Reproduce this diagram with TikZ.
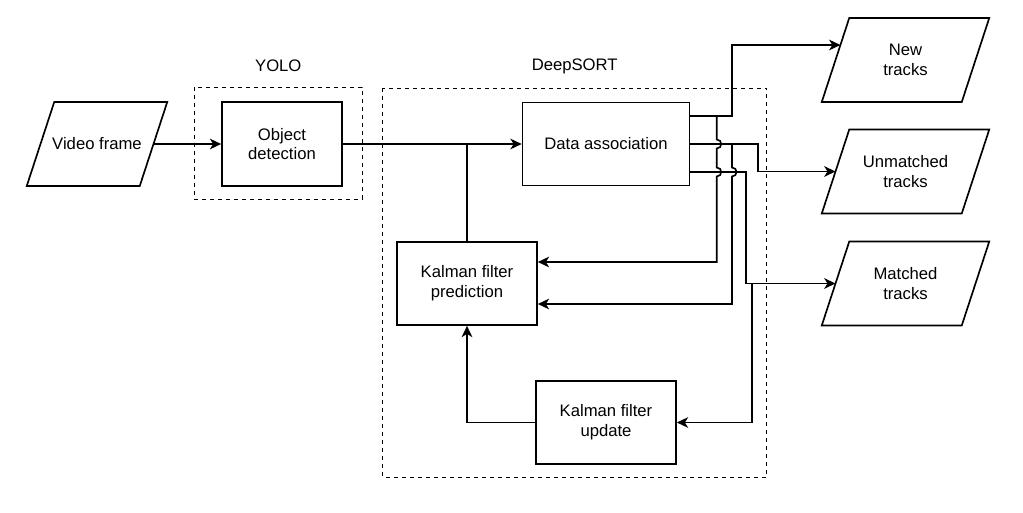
\documentclass[tikz,border=0pt]{standalone}
\usepackage{fontspec}
\setmainfont{Liberation Sans}
\usetikzlibrary{arrows.meta,calc}
\tikzset{
  ln/.style={line width=1.25pt, draw=black},
  arr/.style={ln, -{Stealth[length=8.5pt,width=8pt,inset=2.5pt]}},
  box/.style={ln, rectangle, align=center, inner sep=0pt},
  txt/.style={align=center, inner sep=0pt, font=\fontsize{12.5}{14.8}\selectfont},
  dashbox/.style={line width=1.1pt, draw=black, dash pattern=on 3pt off 3pt},
}
\newcommand\paranode[5]{%
  \node[txt] (#1) at (#2,#3) {#5};
  \draw[ln] ($(#1.center)+(-#4+13.75,-42)$) -- ($(#1.center)+(#4+13.75,-42)$)
    -- ($(#1.center)+(#4-13.75,42)$) -- ($(#1.center)+(-#4-13.75,42)$) -- cycle;
  \coordinate (#1-w) at ($(#1.center)+(-#4,0)$);
  \coordinate (#1-e) at ($(#1.center)+(#4,0)$);
}
\begin{document}
\begin{tikzpicture}[x=0.75pt,y=-0.75pt]
\useasboundingbox (0,0) rectangle (1023,513);

% group frames
\draw[dashbox] (194.3,87.3) rectangle (362.3,199.3);
\draw[dashbox] (382.7,88.3) rectangle (766.7,477.3);
\node[txt] (yolo) at (278.3,66) {YOLO};
\node[txt] (deep) at (574.7,66) {DeepSORT};

% parallelograms
\paranode{vf}{97}{144}{56.5}{Video frame}
\paranode{nt}{905.5}{60}{70}{New\\tracks}
\paranode{ut}{905.5}{171.5}{70}{Unmatched\\tracks}
\paranode{mt}{905.5}{283.5}{70}{Matched\\tracks}
\coordinate (nt-a) at ($(nt.center)+(-70+4.9,-15)$);

% boxes
\node[txt,box,minimum width=90pt,minimum height=63pt] (od) at (282,144) {Object\\detection};
\node[txt,box,minimum width=125.25pt,minimum height=62.25pt] (da) at (606,144) {Data association};
\node[txt,box,minimum width=105pt,minimum height=62.25pt] (kp) at (467,283.5) {Kalman filter\\prediction};
\node[txt,box,minimum width=105pt,minimum height=62.25pt] (ku) at (606,422.5) {Kalman filter\\update};

% junction coordinates
\coordinate (daN) at ($(da.east)+(0,-28)$);
\coordinate (daS) at ($(da.east)+(0,28)$);
\coordinate (kpA) at ($(kp.east)+(0,-21.5)$);
\coordinate (kpB) at ($(kp.east)+(0,20.5)$);

% main flow
\draw[arr] (vf-e) -- (od.west);
\draw[arr] (od.east) -- (da.west);
\draw[ln] (kp.north) -- (kp.north |- da.west);
\draw[arr] (ku.west) -| (kp.south);

% data association outputs
\draw[arr] (daN) -- (732,116) -- (732,45) -- (nt-a);
\draw[arr] (da.east) -- (758,144) -- (758,171.5) -- (ut-w);
\draw[arr] (daS) -- (745.7,172) -- (745.7,283.5) -- (mt-w);

% feedback to prediction (with line hops)
\draw[arr] (716.7,116) -- (716.7,139.5)
  .. controls (722.7,139.5) and (722.7,148.5) .. (716.7,148.5)
  -- (716.7,167.5)
  .. controls (722.7,167.5) and (722.7,176.5) .. (716.7,176.5)
  -- (716.7,262) -- (kpA);
\draw[arr] (732,144) -- (732,167.5)
  .. controls (738,167.5) and (738,176.5) .. (732,176.5)
  -- (732,304) -- (kpB);

% matched to update
\draw[arr] (752.3,283.5) -- (752.3,422.5) -- (ku.east);
\end{tikzpicture}
\end{document}
